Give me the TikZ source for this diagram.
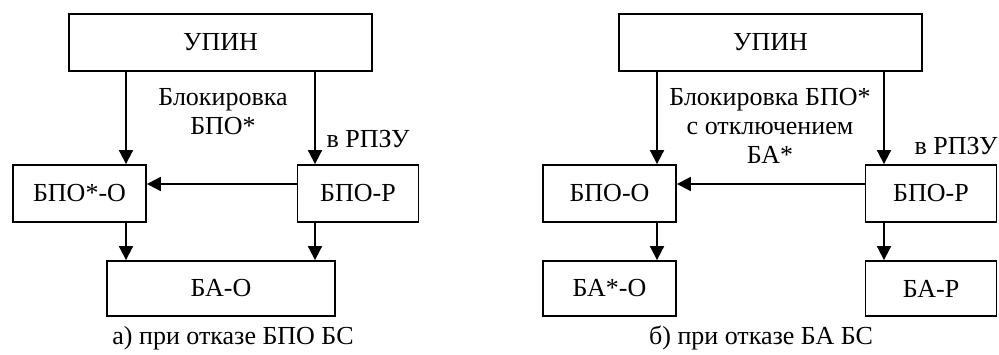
\documentclass[tikz,border=0pt]{standalone}
\usepackage{fontspec}
\setmainfont{Liberation Serif}
\usetikzlibrary{arrows.meta}
\begin{document}
\begin{tikzpicture}[x=1pt,y=-1pt,
  box/.style={draw, line width=1.8pt, inner sep=0pt, font=\fontsize{26}{29}\selectfont},
  lbl/.style={inner sep=0pt, font=\fontsize{26}{29}\selectfont, align=center},
  arr/.style={line width=1.8pt, -{Triangle[length=14pt,width=14pt]}}]
\useasboundingbox (0,0) rectangle (999,355);
% ---- left diagram
\node[box, minimum width=303pt, minimum height=57pt] (upA) at (220.5,42.5) {УПИН};
\node[box, minimum width=133pt, minimum height=57pt] (boA) at (79.5,193.5) {БПО*-О\hspace{14pt}};
\node[box, minimum width=121pt, minimum height=57pt] (brA) at (358,193.5) {БПО-Р};
\node[box, minimum width=228pt, minimum height=55pt] (baA) at (221,288.5) {БА-О};
\coordinate (xAl) at (126,0);
\coordinate (xAr) at (315,0);
\coordinate (yh) at (0,184);
\draw[arr] (xAl |- upA.south) -- (xAl |- boA.north);
\draw[arr] (xAr |- upA.south) -- (xAr |- brA.north);
\draw[arr] (brA.west |- yh) -- (boA.east |- yh);
\draw[arr] (xAl |- boA.south) -- (xAl |- baA.north);
\draw[arr] (xAr |- brA.south) -- (xAr |- baA.north);
\node[lbl] (tA) at (223,111.5) {Блокировка\\БПО*};
\node[lbl] (rA) at (368,139) {в РПЗУ};
\node[lbl] (cA) at (233,338) {а) при отказе БПО БС};
% ---- right diagram
\node[box, minimum width=303pt, minimum height=57pt] (upB) at (770.5,42.5) {УПИН};
\node[box, minimum width=133pt, minimum height=57pt] (boB) at (609.5,193.5) {БПО-О\hspace{14pt}};
\node[box, minimum width=131pt, minimum height=57pt] (brB) at (931,193.5) {БПО-Р\hspace{14pt}};
\node[box, minimum width=133pt, minimum height=55pt] (baoB) at (609.5,288.5) {БА*-О};
\node[box, minimum width=131pt, minimum height=55pt] (barB) at (931,288.5) {БА-Р};
\coordinate (xBl) at (657,0);
\coordinate (xBr) at (884,0);
\draw[arr] (xBl |- upB.south) -- (xBl |- boB.north);
\draw[arr] (xBr |- upB.south) -- (xBr |- brB.north);
\draw[arr] (brB.west |- yh) -- (boB.east |- yh);
\draw[arr] (xBl |- boB.south) -- (xBl |- baoB.north);
\draw[arr] (xBr |- brB.south) -- (xBr |- barB.north);
\node[lbl] (tB) at (770,126) {Блокировка БПО*\\с отключением\\БА*};
\node[lbl] (rB) at (956,146) {в РПЗУ};
\node[lbl] (cB) at (761,338) {б) при отказе БА БС};
\end{tikzpicture}
\end{document}
